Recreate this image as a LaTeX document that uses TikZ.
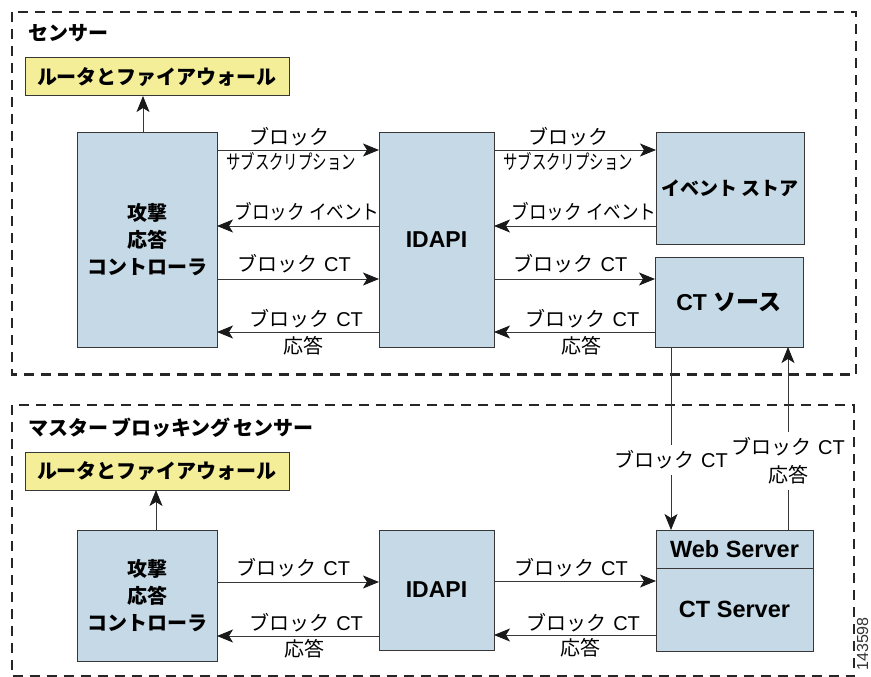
\documentclass[tikz,border=0pt]{standalone}
\usepackage{fontspec}
\usepackage{graphicx}
\setmainfont{Liberation Sans}
\newfontfamily\jp{Noto Sans CJK JP}
\usetikzlibrary{arrows.meta}
\definecolor{boxblue}{RGB}{197,218,230}
\definecolor{yel}{RGB}{244,238,152}
\definecolor{edgec}{RGB}{55,55,55}
\newcommand\myfs[2]{\fontsize{#1pt}{#2pt}\selectfont}
\newcommand\BCT{{\jp ブロック}\hskip7pt CT}
\begin{document}
\begin{tikzpicture}[x=1pt,y=-1pt,
  box/.style={draw=edgec, fill=boxblue, line width=1pt, inner sep=0pt, outer sep=0pt},
  ybox/.style={draw=edgec, fill=yel, line width=1pt, inner sep=0pt, outer sep=0pt,
    minimum width=264pt, minimum height=38pt, font=\myfs{20}{24}\jp\bfseries},
  conn/.style={draw=edgec, line width=0.9pt, -{Stealth[length=16pt,width=13pt,inset=4pt,color=black!90]}},
  lab/.style={inner sep=0pt, text height=17pt, text depth=1pt, font=\myfs{20}{24}},
  vlab/.style={fill=white, inner xsep=2pt, inner ysep=6pt, align=center, font=\myfs{20}{28}},
  region/.style={draw=black!85, line width=2.2pt, dash pattern=on 10pt off 7pt},
  title/.style={inner sep=0pt, anchor=west, font=\myfs{20}{24}\jp\bfseries},
]
\useasboundingbox (0,0) rectangle (871,677);
% regions
\draw[region] (12,12) rectangle (856,374.5);
\draw[region] (12,405) rectangle (854,676.5);
\node[title] (t1) at (28,33) {センサー};
\node[title] (t2) at (28,428) {マスター\hskip3pt ブロッキング\hskip3pt センサー};

% helper coordinates
\coordinate (yA1) at (0,150);
\coordinate (yA2) at (0,226);
\coordinate (yA3) at (0,279);
\coordinate (yA4) at (0,332);
\coordinate (yC1) at (0,582);
\coordinate (yC2) at (0,636);
\coordinate (yD1) at (0,581);
\coordinate (yD2) at (0,635);
\coordinate (xa1) at (143,0);
\coordinate (xa2) at (156,0);
\coordinate (xd) at (671,0);
\coordinate (xu) at (788,0);

% top section nodes
\node[ybox] (yel1) at (157,77) {ルータとファイアウォール};
\node[box, minimum width=140pt, minimum height=215pt, align=center, font=\myfs{20}{27}\jp\bfseries] (ctrl) at (147,239.5) {攻撃\\応答\\コントローラ};
\node[box, minimum width=115pt, minimum height=215pt, font=\myfs{23}{28}\bfseries] (idapi) at (436.5,239.5) {IDAPI};
\node[box, minimum width=148pt, minimum height=112pt, font=\myfs{19}{24}\jp\bfseries] (evs) at (730,188) {イベント ストア};
\node[box, minimum width=148pt, minimum height=90pt, font=\myfs{23}{26}\bfseries] (ctsrc) at (729,302) {CT\hskip7pt{\jp ソース}};

% bottom section nodes
\node[ybox] (yel2) at (157,471) {ルータとファイアウォール};
\node[box, minimum width=140pt, minimum height=131pt, align=center, font=\myfs{20}{27}\jp\bfseries] (ctrl2) at (147,595.5) {攻撃\\応答\\コントローラ};
\node[box, minimum width=115pt, minimum height=120pt, font=\myfs{23}{28}\bfseries] (idapi2) at (436.5,590) {IDAPI};
\node[box, minimum width=157pt, minimum height=38pt, font=\myfs{23.5}{28}\bfseries] (web) at (734.5,549) {Web Server};
\node[box, minimum width=157pt, minimum height=83pt, font=\myfs{23.5}{28}\bfseries] (cts) at (734.5,609.5) {CT Server};

% top connectors
\draw[conn] (xa1 |- ctrl.north) -- (xa1 |- yel1.south);
\draw[conn] (ctrl.east |- yA1) -- (idapi.west |- yA1)
  node[lab, pos=0.45, yshift=14pt] (l1) {\jp ブロック}
  node[lab, pos=0.457, yshift=-11pt] (l2) {\scalebox{0.72}[1]{\jp サブスクリプション}};
\draw[conn] (idapi.west |- yA2) -- (ctrl.east |- yA2)
  node[lab, pos=0.444, yshift=15pt] (l3) {\scalebox{0.88}[1]{\jp ブロック イベント}};
\draw[conn] (ctrl.east |- yA3) -- (idapi.west |- yA3)
  node[lab, pos=0.475, yshift=16pt] (l4) {\BCT};
\draw[conn] (idapi.west |- yA4) -- (ctrl.east |- yA4)
  node[lab, pos=0.45, yshift=14pt] (l5) {\BCT}
  node[lab, pos=0.463, yshift=-13pt] (l6) {\jp 応答};

\draw[conn] (idapi.east |- yA1) -- (evs.west |- yA1)
  node[lab, pos=0.457, yshift=14pt] (r1) {\jp ブロック}
  node[lab, pos=0.457, yshift=-11pt] (r2) {\scalebox{0.72}[1]{\jp サブスクリプション}};
\draw[conn] (evs.west |- yA2) -- (idapi.east |- yA2)
  node[lab, pos=0.444, yshift=15pt] (r3) {\scalebox{0.88}[1]{\jp ブロック イベント}};
\draw[conn] (idapi.east |- yA3) -- (ctsrc.west |- yA3)
  node[lab, pos=0.475, yshift=16pt] (r4) {\BCT};
\draw[conn] (ctsrc.west |- yA4) -- (idapi.east |- yA4)
  node[lab, pos=0.45, yshift=14pt] (r5) {\BCT}
  node[lab, pos=0.457, yshift=-13pt] (r6) {\jp 応答};

% vertical connectors
\draw[conn] (ctsrc.south -| xd) -- (web.north -| xd)
  node[vlab, pos=0.617] (v1) {\BCT};
\draw[conn] (web.north -| xu) -- (ctsrc.south -| xu)
  node[vlab, pos=0.377] (v2) {\BCT\\{\jp 応答}};

% bottom connectors
\draw[conn] (xa2 |- ctrl2.north) -- (xa2 |- yel2.south);
\draw[conn] (ctrl2.east |- yC1) -- (idapi2.west |- yC1)
  node[lab, pos=0.47, yshift=15pt] (b1) {\BCT};
\draw[conn] (idapi2.west |- yC2) -- (ctrl2.east |- yC2)
  node[lab, pos=0.45, yshift=14pt] (b2) {\BCT}
  node[lab, pos=0.457, yshift=-12pt] (b3) {\jp 応答};
\draw[conn] (idapi2.east |- yD1) -- (cts.west |- yD1)
  node[lab, pos=0.475, yshift=14pt] (b4) {\BCT};
\draw[conn] (cts.west |- yD2) -- (idapi2.east |- yD2)
  node[lab, pos=0.45, yshift=13pt] (b5) {\BCT}
  node[lab, pos=0.469, yshift=-12pt] (b6) {\jp 応答};

% figure number
\node[rotate=90, anchor=base east, inner sep=0pt, font=\myfs{16}{20}, text=black!80] (fig) at (868,617) {143598};
\end{tikzpicture}
\end{document}
